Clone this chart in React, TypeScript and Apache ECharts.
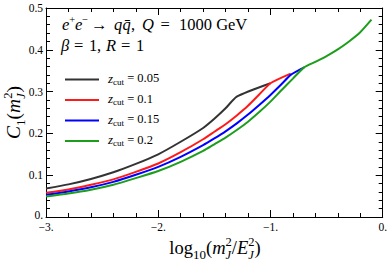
import React, { useEffect, useRef } from "react";
import * as echarts from "echarts";

// ---- data ----
const zcut005X = [-3.0, -2.8, -2.6, -2.4, -2.2, -2.0, -1.8, -1.6, -1.5, -1.4, -1.3, -1.0];
const zcut005Y = [0.068, 0.078, 0.091, 0.107, 0.127, 0.150, 0.180, 0.213, 0.235, 0.260, 0.288, 0.320];

const zcut01X = [-3.0, -2.8, -2.6, -2.4, -2.2, -2.0, -1.8, -1.6, -1.5, -1.4, -1.3, -1.2, -1.1, -1.0, -0.82];
const zcut01Y = [0.058, 0.066, 0.077, 0.090, 0.108, 0.128, 0.155, 0.186, 0.204, 0.222, 0.243, 0.266, 0.293, 0.320, 0.343];

const zcut015X = [-3.0, -2.8, -2.6, -2.4, -2.2, -2.0, -1.8, -1.6, -1.5, -1.4, -1.3, -1.2, -1.1, -1.0, -0.9, -0.82, -0.7];
const zcut015Y = [0.053, 0.061, 0.071, 0.084, 0.101, 0.120, 0.144, 0.172, 0.188, 0.205, 0.224, 0.245, 0.268, 0.292, 0.318, 0.340, 0.358];

const zcut02X = [-3.0, -2.8, -2.6, -2.4, -2.2, -2.0, -1.8, -1.6, -1.5, -1.4, -1.3, -1.2, -1.1, -1.0, -0.9, -0.8, -0.7];
const zcut02Y = [0.049, 0.056, 0.065, 0.077, 0.093, 0.110, 0.132, 0.158, 0.174, 0.190, 0.208, 0.228, 0.251, 0.276, 0.304, 0.331, 0.358];

const tailX = [-0.6, -0.5, -0.4, -0.3, -0.2, -0.1];
const tailY = [0.371, 0.385, 0.401, 0.420, 0.442, 0.472];

const legendValues = ["0.05", "0.1", "0.15", "0.2"];
const seriesColors = ["#333333", "#ff1a1a", "#0000ff", "#1c9e1c"];

const xTicks = [-3, -2, -1, 0];
const yTicks = [0, 0.1, 0.2, 0.3, 0.4, 0.5];

const FAMILY = '"Liberation Serif", "Times New Roman", serif';

function zip(xs: number[], ys: number[]) {
  return xs.map((x, i) => [x, ys[i]]);
}

type Run = { t: string; s: number; it?: boolean; dy?: number; stack?: boolean; at?: number };

let measureCtx: CanvasRenderingContext2D | null = null;
function measure(font: string, t: string) {
  if (!measureCtx) measureCtx = document.createElement("canvas").getContext("2d");
  measureCtx!.font = font;
  return measureCtx!.measureText(t).width;
}

// lay out a run of math-ish text with baseline at y=0, starting at x=0
function layoutRuns(runs: Run[], color = "#000") {
  const els: any[] = [];
  let x = 0;
  let lastStart = 0;
  let lastW = 0;
  for (const r of runs) {
    const font = `${r.it ? "italic " : ""}${r.s}px ${FAMILY}`;
    const w = measure(font, r.t);
    let rx: number;
    if (r.stack) {
      rx = lastStart;
      lastW = Math.max(lastW, w);
      x = lastStart + lastW;
    } else {
      rx = r.at !== undefined ? r.at : x;
      lastStart = rx;
      lastW = w;
      x = rx + w;
    }
    els.push({
      type: "text",
      x: rx,
      y: (r.dy || 0) - 0.34 * r.s,
      silent: true,
      style: {
        text: r.t,
        font,
        fill: color,
        align: "left",
        textAlign: "left",
        verticalAlign: "middle",
        textVerticalAlign: "middle",
      },
    });
  }
  return { els, width: x };
}

function mathGroup(runs: Run[], gx: number, gy: number, centered: boolean, rotation = 0) {
  const { els, width } = layoutRuns(runs);
  if (centered) els.forEach((e) => (e.x -= width / 2));
  return { type: "group", x: gx, y: gy, rotation, children: els };
}

export default function App() {
  const ref = useRef<HTMLDivElement>(null);
  useEffect(() => {
    const chart = echarts.init(ref.current!, null, { renderer: "svg" });

    const T = 16.5;
    // title runs, positions relative to x = 62
    const title1: Run[] = [
      { t: "e", s: T, it: true, at: 0 },
      { t: "+", s: 10.5, dy: -6.5 },
      { t: "e", s: T, it: true, at: 13 },
      { t: "\u2212", s: 10.5, dy: -6.5 },
      { t: "\u2192", s: T, at: 29 },
      { t: "q", s: T, it: true, at: 52 },
      { t: "q\u0304", s: T, it: true, at: 60.5 },
      { t: ",", s: T, at: 69 },
      { t: "Q", s: T, it: true, at: 80 },
      { t: "=", s: T, at: 98.5 },
      { t: "1000 GeV", s: T, at: 117 },
    ];
    const title2: Run[] = [
      { t: "\u03b2", s: T, it: true, at: 0 },
      { t: "=", s: T, at: 13 },
      { t: "1", s: T, at: 28 },
      { t: ",", s: T, at: 36 },
      { t: "R", s: T, it: true, at: 45 },
      { t: "=", s: T, at: 60 },
      { t: "1", s: T, at: 75 },
    ];
    const xName: Run[] = [
      { t: "log", s: 18.5 },
      { t: "10", s: 13, dy: 4 },
      { t: "(", s: 18.5 },
      { t: "m", s: 18.5, it: true },
      { t: "J", s: 12.5, it: true, dy: 4.5 },
      { t: "2", s: 12.5, dy: -8, stack: true },
      { t: "/", s: 18.5 },
      { t: "E", s: 18.5, it: true },
      { t: "J", s: 12.5, it: true, dy: 4.5 },
      { t: "2", s: 12.5, dy: -8, stack: true },
      { t: ")", s: 18.5 },
    ];
    const yName: Run[] = [
      { t: "C", s: 19.5, it: true },
      { t: "1", s: 13, dy: 4.5 },
      { t: "(", s: 19.5 },
      { t: "m", s: 19.5, it: true },
      { t: "J", s: 12.5, it: true, dy: 5 },
      { t: "2", s: 12.5, dy: -7.5, stack: true },
      { t: ")", s: 19.5 },
    ];

    const legendEls: any[] = [];
    const legendY = [79.5, 100, 120.5, 141];
    legendValues.forEach((v, i) => {
      legendEls.push({
        type: "line",
        silent: true,
        shape: { x1: 65, y1: legendY[i], x2: 99, y2: legendY[i] },
        style: { stroke: seriesColors[i], lineWidth: 2 },
      });
      legendEls.push(
        mathGroup(
          [
            { t: "z", s: 13, it: true },
            { t: "cut", s: 9, dy: 2.5 },
            { t: " = " + v, s: 12.5 },
          ],
          108,
          legendY[i] + 3,
          false
        )
      );
    });

    const axisCommon = {
      type: "value" as const,
      axisLine: { show: true, onZero: false, lineStyle: { color: "#000", width: 1 } },
      axisTick: { show: true, inside: true, length: 7, lineStyle: { color: "#000", width: 1 } },
      minorTick: { show: true, splitNumber: 5, length: 4, lineStyle: { color: "#000", width: 1 } },
      splitLine: { show: false },
      minorSplitLine: { show: false },
    };
    const labelStyle = { fontFamily: FAMILY, fontSize: 11.5, color: "#000" };

    const series = [
      zip(zcut005X, zcut005Y),
      zip(zcut01X, zcut01Y),
      zip(zcut015X, zcut015Y),
      zip(zcut02X, zcut02Y).concat(zip(tailX, tailY)),
    ].map((data, i) => ({
      type: "line",
      name: "zcut = " + legendValues[i],
      data,
      showSymbol: false,
      symbol: "none",
      smooth: 0.2,
      lineStyle: { color: seriesColors[i], width: 2 },
      itemStyle: { color: seriesColors[i] },
      z: 2 + i,
    }));

    chart.setOption({
      animation: false,
      backgroundColor: "#fff",
      grid: { left: 46, right: 6, top: 8, bottom: 45, containLabel: false },
      xAxis: [
        {
          ...axisCommon,
          position: "bottom",
          min: xTicks[0],
          max: xTicks[xTicks.length - 1],
          interval: 1,
          axisLabel: {
            ...labelStyle,
            margin: 4,
            formatter: (v: number) => (v === 0 ? "0." : "\u2212" + Math.abs(v) + "."),
          },
        },
        {
          ...axisCommon,
          position: "top",
          min: xTicks[0],
          max: xTicks[xTicks.length - 1],
          interval: 1,
          axisLabel: { show: false },
        },
      ],
      yAxis: [
        {
          ...axisCommon,
          position: "left",
          min: yTicks[0],
          max: yTicks[yTicks.length - 1],
          interval: 0.1,
          axisLabel: {
            ...labelStyle,
            margin: 3,
            formatter: (v: number) => (v === 0 ? "{z|0.}" : v.toFixed(1)),
            rich: { z: { fontFamily: FAMILY, fontSize: 11.5, color: "#000", padding: [0, 0, 5, 0] } },
          },
        },
        {
          ...axisCommon,
          position: "right",
          min: yTicks[0],
          max: yTicks[yTicks.length - 1],
          interval: 0.1,
          axisLabel: { show: false },
        },
      ],
      series,
      graphic: [
        mathGroup(title1, 62, 30, false),
        mathGroup(title2, 61, 51.5, false),
        ...legendEls,
        mathGroup(xName, 215, 254.5, true),
        mathGroup(yName, 20, 112.5, true, Math.PI / 2),
      ],
    });

    return () => chart.dispose();
  }, []);

  return (
    <div
      ref={ref}
      style={{ position: "fixed", left: 0, top: 0, width: 390, height: 262, background: "#fff" }}
    />
  );
}
